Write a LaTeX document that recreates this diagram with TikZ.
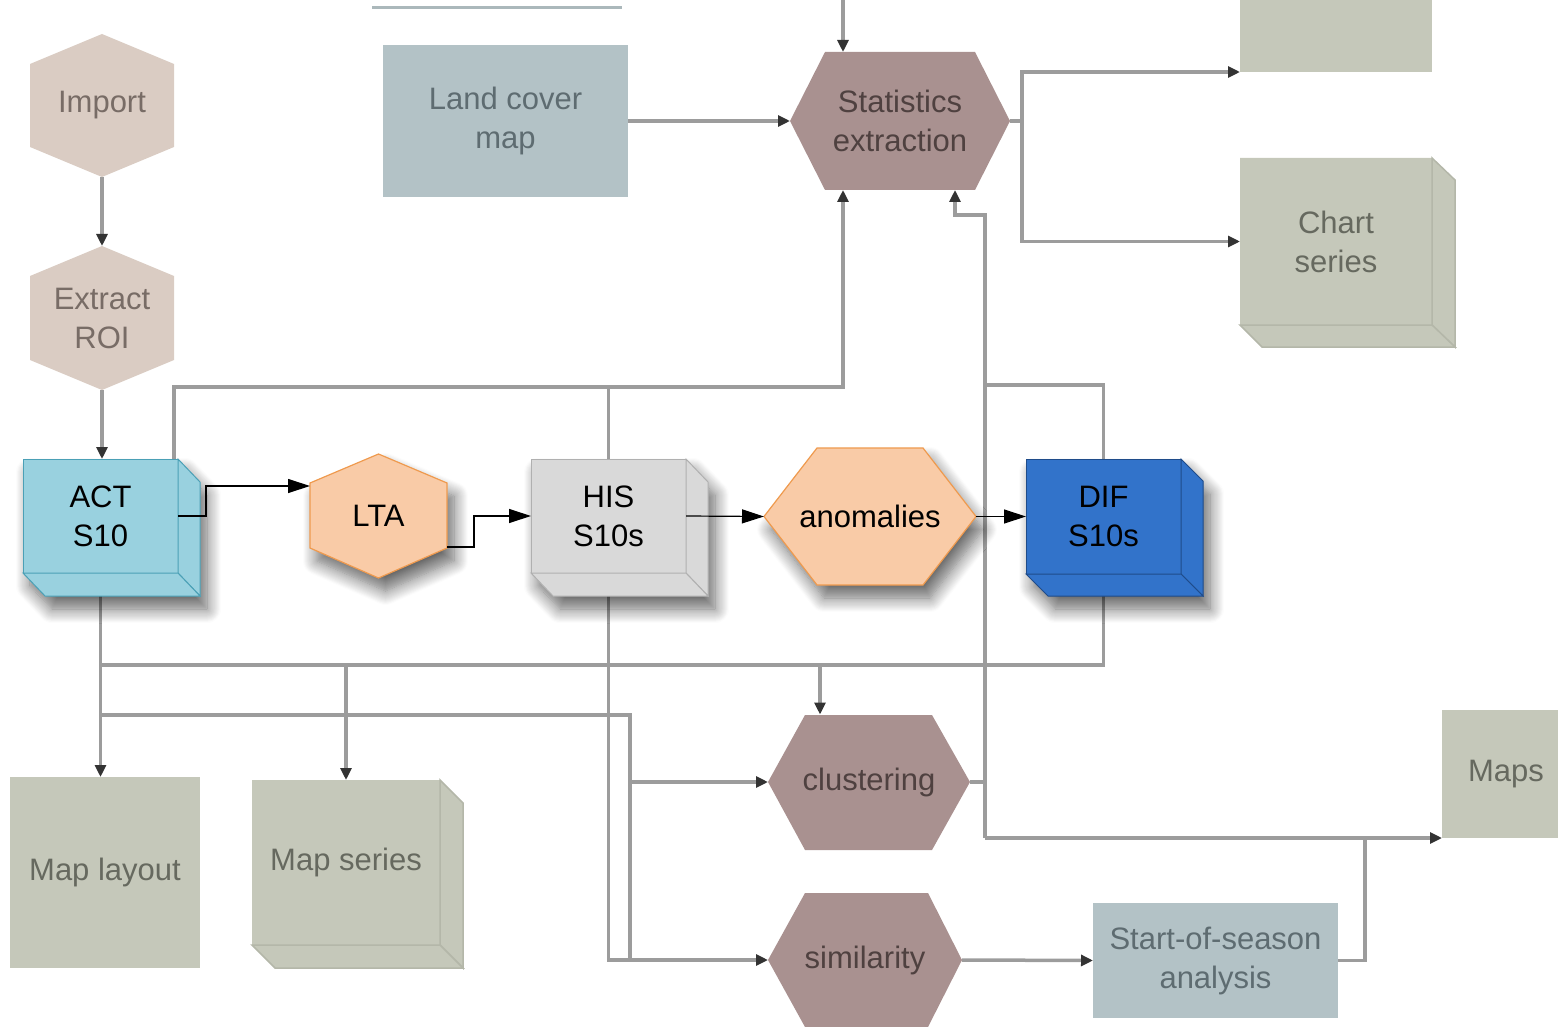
\documentclass[tikz,border=0pt]{standalone}
\usepackage{fontspec}
\setmainfont{Liberation Sans}
\usetikzlibrary{arrows.meta,shadows.blur}
\definecolor{actF}{HTML}{99D1DF}
\definecolor{actD}{HTML}{4BA0B6}
\definecolor{orF}{HTML}{F9CBA7}
\definecolor{orD}{HTML}{EF9A4E}
\definecolor{hisF}{HTML}{D9D9D9}
\definecolor{hisD}{HTML}{B0B0B0}
\definecolor{difF}{HTML}{3273CA}
\definecolor{difD}{HTML}{1F4C8A}
\definecolor{hexA}{HTML}{DACCC3}
\definecolor{hexAt}{HTML}{786C66}
\definecolor{blueG}{HTML}{B3C2C6}
\definecolor{blueGt}{HTML}{5E6C71}
\definecolor{mauve}{HTML}{A99190}
\definecolor{mauvet}{HTML}{4F4140}
\definecolor{sage}{HTML}{C5C8BA}
\definecolor{saged}{HTML}{B4B7A9}
\definecolor{saget}{HTML}{66695F}
\definecolor{lineG}{HTML}{9C9C9C}
\definecolor{tipG}{HTML}{333333}
\pgfdeclarelayer{bgshapes}
\pgfdeclarelayer{bglines}
\pgfsetlayers{bglines,bgshapes,main}
\begin{document}
\begin{tikzpicture}[x=1pt,y=-1pt,
  lab/.style={font=\fontsize{31}{39}\selectfont, align=center, inner sep=0pt, outer sep=0pt},
  bgline/.style={draw=lineG, line width=3.5pt},
  bgarrow/.style={bgline, -{Triangle[length=12pt,width=11pt,color=tipG]}},
  fgarrow/.style={draw=black, line width=1.2pt, -{Triangle[length=22pt,width=14pt]}},
  fgshadow/.style={blur shadow={shadow xshift=7pt, shadow yshift=-13pt, shadow blur radius=14pt, shadow blur steps=14, shadow opacity=60}},
]
\useasboundingbox (0,0) rectangle (1558,1027);

% ================= foreground =================
% ACT S10
\path[fill=actF, fgshadow] (23,459) -- (178,459) -- (200,482) -- (200,596) -- (45,596) -- (23,573) -- cycle;
\node[lab, fill=actF, draw=actD, line width=1pt, minimum width=155pt, minimum height=114pt] (act) at (100.5,516) {ACT\\S10};
\draw[actD, fill=actF, line width=1pt] (act.north east) -- ++(22,23) -- ++(0,114) -- (act.south east) -- cycle;
\draw[actD, fill=actF, line width=1pt] (act.south west) -- ++(22,23) -- ++(155,0) -- (act.south east) -- cycle;

% LTA
\path[fill=orF, draw=orD, line width=1.2pt, fgshadow] (378.5,454) -- (447,483) -- (447,548) -- (378.5,578) -- (310,548) -- (310,483) -- cycle;
\node[lab, minimum width=137pt, minimum height=124pt] (lta) at (378.5,516) {LTA};

% HIS S10s
\path[fill=hisF, fgshadow] (531,459) -- (686,459) -- (708,482) -- (708,596) -- (553,596) -- (531,573) -- cycle;
\node[lab, fill=hisF, draw=hisD, line width=1pt, minimum width=155pt, minimum height=114pt] (his) at (608.5,516) {HIS\\S10s};
\draw[hisD, fill=hisF, line width=1pt] (his.north east) -- ++(22,23) -- ++(0,114) -- (his.south east) -- cycle;
\draw[hisD, fill=hisF, line width=1pt] (his.south west) -- ++(22,23) -- ++(155,0) -- (his.south east) -- cycle;

% anomalies
\path[fill=orF, draw=orD, line width=1.2pt, fgshadow] (764,516.5) -- (817,448) -- (923,448) -- (976,516.5) -- (923,585) -- (817,585) -- cycle;
\node[lab, minimum width=212pt, minimum height=137pt] (anom) at (870,516.5) {anomalies};

% DIF S10s
\path[fill=difF, fgshadow] (1026,459) -- (1181,459) -- (1203,481) -- (1203,596) -- (1048,596) -- (1026,574) -- cycle;
\node[lab, fill=difF, draw=difD, line width=1pt, minimum width=155pt, minimum height=115pt] (dif) at (1103.5,516.5) {DIF\\S10s};
\draw[difD, fill=difF, line width=1pt] (dif.north east) -- ++(22,22) -- ++(0,115) -- (dif.south east) -- cycle;
\draw[difD, fill=difF, line width=1pt] (dif.south west) -- ++(22,22) -- ++(155,0) -- (dif.south east) -- cycle;

% foreground connectors
\draw[fgarrow] (act.east) -- ++(28,0) |- ([yshift=30pt]lta.west);
\draw[fgarrow] ([yshift=-31pt]lta.east) -- ++(27,0) |- (his.west);
\draw[fgarrow] (his.east) -- (anom.west);
\draw[fgarrow] (anom.east) -- (dif.west);

% ================= background shapes =================
\begin{pgfonlayer}{bgshapes}
\draw[draw=blueG!85!gray, line width=3pt] (372,8) -- (622,8);
% Import
\fill[hexA] (102,34) -- (174,64) -- (174,147) -- (102,177) -- (30,147) -- (30,64) -- cycle;
\node[lab, text=hexAt, minimum width=144pt, minimum height=143pt] (imp) at (102,105.5) {Import};
% Extract ROI
\fill[hexA] (102,246) -- (174,276) -- (174,360) -- (102,390) -- (30,360) -- (30,276) -- cycle;
\node[lab, text=hexAt, minimum width=144pt, minimum height=144pt] (roi) at (102,318) {Extract\\ROI};
% Land cover map
\node[lab, fill=blueG, text=blueGt, minimum width=245pt, minimum height=152pt] (land) at (505.5,121) {Land cover\\map};
% Statistics extraction
\fill[mauve] (790,121) -- (825,52) -- (975,52) -- (1010,121) -- (975,190) -- (825,190) -- cycle;
\node[lab, text=mauvet, minimum width=220pt, minimum height=138pt] (stats) at (900,121) {Statistics\\extraction};
% top right box
\node[lab, fill=sage, minimum width=192pt, minimum height=90pt] (trbox) at (1336,27) {};
% Chart series
\fill[sage] (1240,158) -- (1432,158) -- (1455,180) -- (1455,347) -- (1262,347) -- (1240,325) -- cycle;
\node[lab, fill=sage, text=saget, minimum width=192pt, minimum height=167pt] (chart) at (1336,241.5) {Chart\\series};
\draw[saged, fill=sage, line width=1.5pt] (chart.north east) -- ++(23,22) -- ++(0,167) -- (chart.south east) -- cycle;
\draw[saged, fill=sage, line width=1.5pt] (chart.south west) -- ++(22,22) -- ++(193,0) -- (chart.south east) -- cycle;
% Map layout
\node[lab, fill=sage, text=saget, minimum width=190pt, minimum height=191pt] (maplay) at (105,872.5) {Map layout};
% Map series
\fill[sage] (252,780) -- (440,780) -- (463,803) -- (463,968) -- (275,968) -- (252,945) -- cycle;
\node[lab, fill=sage, text=saget, minimum width=188pt, minimum height=165pt] (mapser) at (346,862.5) {Map series};
\draw[saged, fill=sage, line width=1.5pt] (mapser.north east) -- ++(23,23) -- ++(0,165) -- (mapser.south east) -- cycle;
\draw[saged, fill=sage, line width=1.5pt] (mapser.south west) -- ++(23,23) -- ++(188,0) -- (mapser.south east) -- cycle;
% clustering
\fill[mauve] (768,782) -- (805,715) -- (932,715) -- (970,782) -- (932,850) -- (805,850) -- cycle;
\node[lab, text=mauvet, minimum width=202pt, minimum height=135pt] (clus) at (869,782) {clustering};
% similarity
\fill[mauve] (768,960) -- (805,893) -- (928,893) -- (962,960) -- (928,1027) -- (805,1027) -- cycle;
\node[lab, text=mauvet, minimum width=194pt, minimum height=134pt] (simil) at (865,960) {similarity};
% Start-of-season analysis
\node[lab, fill=blueG, text=blueGt, minimum width=245pt, minimum height=115pt] (sos) at (1215.5,960.5) {Start-of-season\\analysis};
% Maps
\node[lab, fill=sage, text=saget, minimum width=128pt, minimum height=128pt] (maps) at (1506,774) {Maps};
\end{pgfonlayer}

% ================= background connectors =================
\begin{pgfonlayer}{bglines}
\coordinate (topin) at (843,0);
\draw[bgarrow] (topin) -- (topin |- stats.north);
\draw[bgarrow] (imp.south) -- (roi.north);
\draw[bgarrow] (roi.south) -- (roi.south |- act.north);
\draw[bgarrow] (land.east) -- (stats.west);
\coordinate (sj) at (1022,121);
\draw[bgline] (stats.east) -- (sj);
\draw[bgarrow] (sj) |- (trbox.south west);
\draw[bgarrow] (sj) |- (chart.west);
\coordinate (sb) at (843,387);
\draw[bgarrow] ([xshift=-4pt]act.north east) |- (sb) -- (sb |- stats.south);
\draw[bgline] (his.north) -- (his.north |- sb);
\coordinate (dj) at (985,385);
\coordinate (st2) at (955,215);
\draw[bgarrow] (dif.north) |- (dj) |- (st2) -- (st2 |- stats.south);
\coordinate (mj) at (985,838);
\draw[bgline] (dj) -- (mj);
\draw[bgline] (clus.east) -- (clus.east -| mj);
\draw[bgarrow] (mj) -- (maps.south west);
\draw[bgline] (sos.east) -- ++(27,0) -- ++(0,-122.5);
\coordinate (h1) at (102,665);
\draw[bgline] (dif.south) |- (act.south |- h1);
\draw[bgarrow] (act.south) -- (act.south |- maplay.north);
\coordinate (k0) at (346,665);
\draw[bgarrow] (k0) -- (mapser.north);
\coordinate (k1) at (820,665);
\draw[bgarrow] (k1) -- (k1 |- clus.north);
\coordinate (h2) at (630,715);
\draw[bgline] (act.south |- h2) -- (h2) -- (h2 |- simil.west);
\draw[bgarrow] (his.south) |- (simil.west);
\draw[bgarrow] (h2 |- clus.west) -- (clus.west);
\draw[bgarrow] (simil.east) -- (sos.west);
\end{pgfonlayer}
\end{tikzpicture}
\end{document}
